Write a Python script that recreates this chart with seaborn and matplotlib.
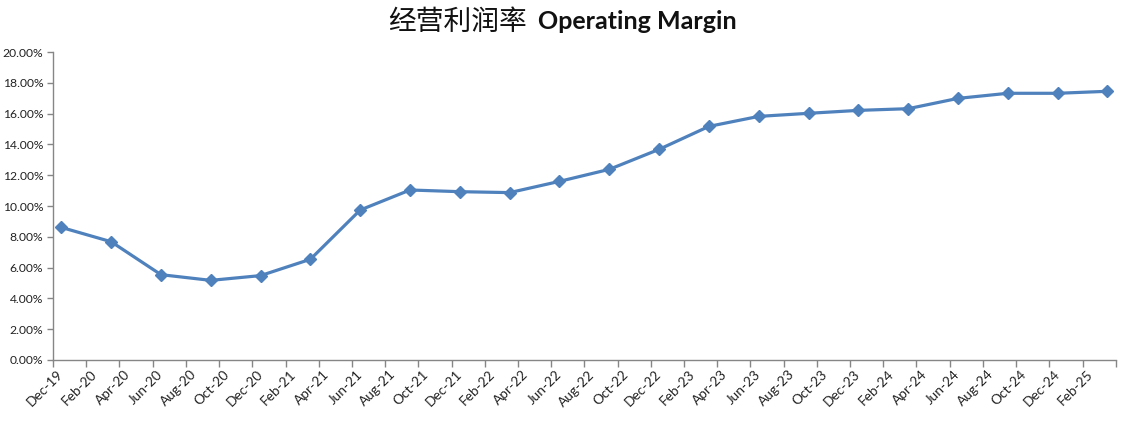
import matplotlib
matplotlib.use('Agg')
import matplotlib.pyplot as plt
import numpy as np
import pandas as pd
import seaborn as sns
from matplotlib.ticker import FixedLocator, FuncFormatter

# quarter ends, Dec-19 .. Mar-25
quarters = ['2019-12', '2020-03', '2020-06', '2020-09', '2020-12', '2021-03',
            '2021-06', '2021-09', '2021-12', '2022-03', '2022-06', '2022-09',
            '2022-12', '2023-03', '2023-06', '2023-09', '2023-12', '2024-03',
            '2024-06', '2024-09', '2024-12', '2025-03']
margin = [8.61, 7.68, 5.54, 5.17, 5.48, 6.54, 9.74, 11.04, 10.93, 10.87, 11.60,
          12.38, 13.68, 15.17, 15.82, 16.02, 16.21, 16.32, 16.99, 17.32, 17.32,
          17.45]
x_labels = ['Dec-19', 'Feb-20', 'Apr-20', 'Jun-20', 'Aug-20', 'Oct-20', 'Dec-20',
            'Feb-21', 'Apr-21', 'Jun-21', 'Aug-21', 'Oct-21', 'Dec-21', 'Feb-22',
            'Apr-22', 'Jun-22', 'Aug-22', 'Oct-22', 'Dec-22', 'Feb-23', 'Apr-23',
            'Jun-23', 'Aug-23', 'Oct-23', 'Dec-23', 'Feb-24', 'Apr-24', 'Jun-24',
            'Aug-24', 'Oct-24', 'Dec-24', 'Feb-25']

df = pd.DataFrame({'quarter': pd.to_datetime(quarters), 'margin': margin})
# month slots counted from Dec-19 (excel style date axis)
df['month'] = (df.quarter.dt.year - 2019) * 12 + df.quarter.dt.month - 12

sns.set_style('white')
plt.rcParams['font.family'] = ['Lato', 'Noto Sans CJK SC', 'DejaVu Sans']

fig = plt.figure(figsize=(11.31, 4.23), dpi=100)
ax = fig.add_axes([0.0469, 0.149, 0.9396, 0.728])

blue = '#4F81BD'
sns.lineplot(data=df, x='month', y='margin', ax=ax, color=blue, linewidth=2.3,
             marker='D', markersize=6.5, markeredgecolor=blue, markeredgewidth=1)

n_months = 2 * len(x_labels)
ax.set_xlim(-0.5, n_months - 0.5)
ax.set_ylim(0, 20)
ax.set_xlabel('')
ax.set_ylabel('')

# tick marks on slot boundaries, labels in slot centres
ax.xaxis.set_major_locator(FixedLocator(np.arange(-0.5, n_months, 2)))
ax.xaxis.set_major_formatter(FuncFormatter(lambda v, p: ''))
ax.xaxis.set_minor_locator(FixedLocator(np.arange(0, n_months, 2)))
ax.set_xticklabels(x_labels, minor=True)
ax.tick_params(axis='x', which='major', direction='out', length=5, width=1,
               color='#868686', bottom=True)
ax.tick_params(axis='x', which='minor', length=0, pad=9, labelsize=9.8,
               labelcolor='#222222', bottom=True)
for lab in ax.get_xticklabels(minor=True):
    lab.set_rotation(45)
    lab.set_ha('right')
    lab.set_va('center')
    lab.set_rotation_mode('anchor')

ax.set_yticks(np.arange(0, 20.1, 2))
ax.yaxis.set_major_formatter(FuncFormatter(lambda v, p: f'{v:.2f}%'))
ax.tick_params(axis='y', direction='out', length=4, width=1, color='#868686',
               left=True, labelsize=8.7, labelcolor='#222222', pad=3)

for side in ['top', 'right']:
    ax.spines[side].set_visible(False)
for side in ['left', 'bottom']:
    ax.spines[side].set_color('#868686')
    ax.spines[side].set_linewidth(1)
ax.grid(False)

fig.text(0.466, 0.948, '经营利润率', ha='right', va='center', fontsize=20,
         family=['Noto Sans CJK SC', 'DejaVu Sans'], color='#111111')
fig.text(0.4757, 0.948, 'Operating Margin', ha='left', va='center', fontsize=18,
         fontweight='bold', family=['Lato', 'DejaVu Sans'], color='#111111')

fig.savefig('out.png', dpi=100)
